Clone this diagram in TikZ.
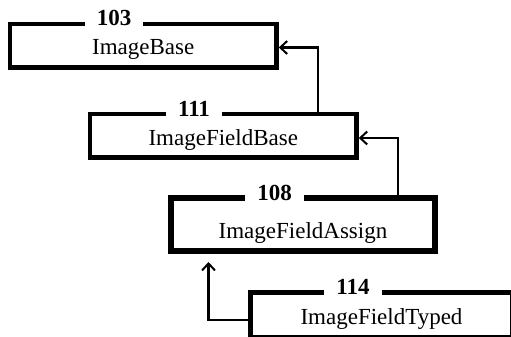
\documentclass[tikz,border=0pt]{standalone}
\usepackage{fontspec}
\setmainfont{Liberation Serif}
\usetikzlibrary{arrows.meta}
\begin{document}
\begin{tikzpicture}[x=1pt,y=-1pt,
  box/.style={draw, line width=4.5pt, rectangle, inner sep=0pt},
  title/.style={font=\fontsize{23}{27}\selectfont, anchor=base, inner sep=0pt},
  num/.style={font=\fontsize{23}{27}\selectfont\bfseries, anchor=base, fill=white, inner xsep=12pt, inner ysep=2.5pt},
  conn/.style={line width=2.5pt, -{Straight Barb[length=7pt,width=13pt,line width=2pt]}}]
\useasboundingbox (0,0) rectangle (511,337);
% boxes
\node[box, minimum width=266.5pt, minimum height=43.5pt] (b103) at (143.25,45.75) {};
\node[box, minimum width=266.5pt, minimum height=43.5pt] (b111) at (223.25,135.75) {};
\node[box, line width=6.5pt, minimum width=264pt, minimum height=53pt] (b108) at (303,224.5) {};
\node[box, minimum width=262pt, minimum height=45pt] (b114) at (381.5,315) {};
% titles
\node[title] (t103) at (143.25,55) {ImageBase};
\node[title] (t111) at (223.25,145) {ImageFieldBase};
\node[title] (t108) at (303,238) {ImageFieldAssign};
\node[title] (t114) at (381.5,324) {ImageFieldTyped};
% numbers
\node[num] (n103) at (114,25.5) {103};
\node[num] (n111) at (194,116) {111};
\node[num] (n108) at (274.5,200) {108};
\node[num] (n114) at (353,294) {114};
% connectors
\coordinate (c1) at (318,47.5);
\coordinate (c2) at (398,138);
\coordinate (c3) at (208.5,320);
\coordinate (a3) at (208.5,262);
\draw[conn] (b111.north -| c1) |- (b103.east |- c1);
\draw[conn] (b108.north -| c2) |- (b111.east |- c2);
\draw[conn] (b114.west |- c3) -| (a3);
\end{tikzpicture}
\end{document}
